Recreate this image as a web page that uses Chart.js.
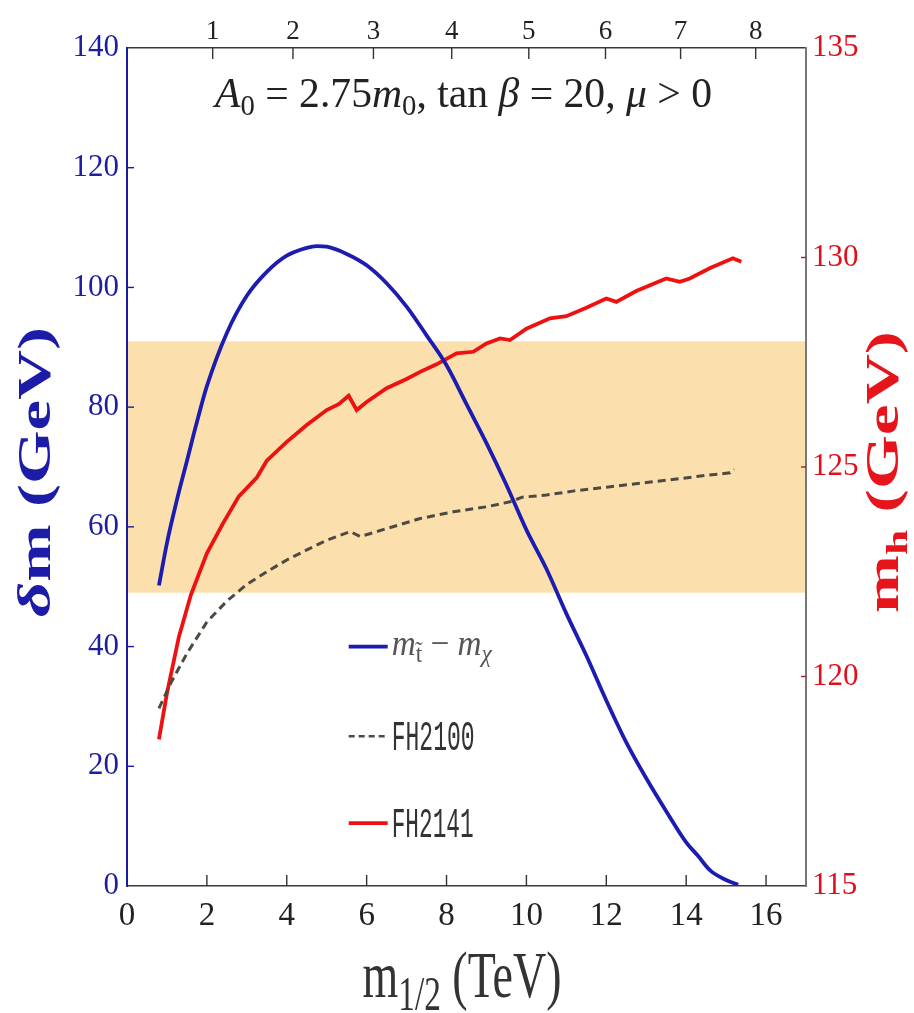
<!DOCTYPE html>
<html>
<head>
<meta charset="utf-8">
<title>delta m and m_h vs m_1/2</title>
<script src="https://cdn.jsdelivr.net/npm/chart.js"></script>
<style>
  html, body { margin: 0; padding: 0; background: #fff; }
  #wrap { width: 914px; height: 1013px; position: relative; }
</style>
</head>
<body>
<div id="wrap"><canvas id="massChart"></canvas></div>
<script>
// valori (m_1/2 in TeV)
const blueM12 = [0.8, 1.0, 1.25, 1.5, 1.75, 2.0, 2.5, 3.0, 3.5, 4.0, 4.5, 4.75, 5.0, 5.5, 6.0, 6.5, 7.0, 7.5, 8.0, 8.5, 9.0, 9.5, 10.0, 10.5, 11.0, 11.5, 12.0, 12.5, 13.0, 13.5, 14.0, 14.3, 14.6, 15.0, 15.3];
const deltaM = [50.2, 57.3, 64.5, 71.0, 77.5, 83.5, 92.4, 98.6, 102.6, 105.3, 106.6, 106.9, 106.8, 105.6, 103.7, 100.7, 96.8, 92.0, 87.0, 80.5, 74.0, 67.0, 59.5, 53.0, 45.5, 38.5, 31.0, 24.0, 18.0, 12.5, 7.3, 5.0, 2.6, 1.0, 0.2];

const redM12 = [0.8, 1.0, 1.3, 1.6, 2.0, 2.4, 2.8, 3.25, 3.5, 4.0, 4.5, 5.0, 5.3, 5.55, 5.75, 6.0, 6.5, 7.0, 7.34, 7.75, 8.25, 8.67, 9.0, 9.34, 9.59, 10.0, 10.59, 11.0, 11.5, 12.0, 12.25, 12.75, 13.5, 13.84, 14.09, 14.6, 15.17, 15.38];
const mhFH2141 = [118.5, 119.6, 120.95, 121.95, 122.94, 123.65, 124.3, 124.75, 125.15, 125.6, 126.0, 126.36, 126.5, 126.7, 126.36, 126.55, 126.88, 127.1, 127.27, 127.45, 127.71, 127.75, 127.95, 128.07, 128.03, 128.3, 128.55, 128.6, 128.8, 129.02, 128.94, 129.2, 129.5, 129.42, 129.5, 129.75, 129.98, 129.9];

const dashM12 = [0.8, 1.1, 1.5, 2.0, 2.5, 3.0, 3.5, 4.0, 4.5, 5.0, 5.59, 5.84, 6.5, 7.34, 8.17, 9.0, 9.59, 9.9, 10.5, 11.2, 12.1, 13.0, 13.9, 14.5, 15.1, 15.2];
const mhFH2100 = [119.24, 119.85, 120.55, 121.3, 121.8, 122.2, 122.5, 122.78, 123.02, 123.25, 123.46, 123.34, 123.53, 123.77, 123.93, 124.05, 124.17, 124.28, 124.33, 124.43, 124.53, 124.63, 124.73, 124.8, 124.86, 124.95];

// asse superiore (m_0 in TeV): etichette e posizione sulla scala m_1/2
const m0Labels = ['1', '2', '3', '4', '5', '6', '7', '8'];
const m0TickAt = [2.145, 4.155, 6.17, 8.13, 10.06, 11.98, 13.86, 15.74];

// banda m_h
const mhBandLow = 122;
const mhBandHigh = 128;

const pts = (xs, ys) => xs.map((x, i) => ({ x: x, y: ys[i] }));

const SERIF = '"Liberation Serif", "DejaVu Serif", serif';
const MONO = '"Liberation Mono", "DejaVu Sans Mono", monospace';

// testo con pezzi di font diversi, stirato a una larghezza data
function drawRich(ctx, parts, x, y, o) {
    ctx.save();
    ctx.translate(x, y);
    if (o.rotate) ctx.rotate(o.rotate);
    let w = 0;
    parts.forEach(p => { ctx.font = p[1]; w += ctx.measureText(p[0]).width; });
    const sx = o.width ? o.width / w : 1;
    ctx.scale(sx, o.sy || 1);
    let cx = o.align === 'left' ? 0 : -w / 2;
    ctx.fillStyle = o.color;
    ctx.textBaseline = 'alphabetic';
    ctx.textAlign = 'left';
    parts.forEach(p => {
        ctx.font = p[1];
        ctx.fillText(p[0], cx, p[2] || 0);
        cx += ctx.measureText(p[0]).width;
    });
    ctx.restore();
}

const bandPlugin = {
    id: 'mhBand',
    beforeDraw(chart) {
        const { ctx, chartArea: a, scales } = chart;
        const top = scales.y2.getPixelForValue(mhBandHigh);
        const bot = scales.y2.getPixelForValue(mhBandLow);
        ctx.save();
        ctx.fillStyle = '#fbe0ad';
        ctx.fillRect(a.left, top, a.right - a.left, bot - top);
        ctx.restore();
    }
};

const inwardTicks = {
    id: 'inwardTicks',
    afterDraw(chart) {
        const { ctx, chartArea: a, scales } = chart;
        const spec = [['x', 11, '#333'], ['xTop', 11, '#333'], ['y', 7, '#1c1ca0'], ['y2', 5, '#a02020']];
        ctx.save();
        ctx.lineWidth = 1.4;
        spec.forEach(([id, len, col]) => {
            const s = scales[id];
            ctx.strokeStyle = col;
            s.ticks.forEach(t => {
                const p = s.getPixelForValue(t.value);
                ctx.beginPath();
                if (id === 'x' || id === 'xTop') {
                    if (p <= a.left + 1 || p >= a.right - 1) return;
                    const y0 = id === 'x' ? a.bottom : a.top;
                    ctx.moveTo(p, y0);
                    ctx.lineTo(p, id === 'x' ? y0 - len : y0 + len);
                } else {
                    if (p <= a.top + 1 || p >= a.bottom - 1) return;
                    const x0 = id === 'y' ? a.left : a.right;
                    ctx.moveTo(x0, p);
                    ctx.lineTo(id === 'y' ? x0 + len : x0 - len, p);
                }
                ctx.stroke();
            });
        });
        ctx.restore();
    }
};

const textPlugin = {
    id: 'texts',
    afterDraw(chart) {
        const { ctx, chartArea: a, scales } = chart;
        const mid = (a.left + a.right) / 2;

        // titolo dentro il grafico
        const it = 'italic 42px ' + SERIF, rm = '42px ' + SERIF, sb = '29px ' + SERIF;
        drawRich(ctx, [
            ['A', it], ['0', sb, 8], [' = 2.75', rm], ['m', it], ['0', sb, 8],
            [', tan ', rm], ['β', it], [' = 20, ', rm], ['μ', it], [' > 0', rm]
        ], mid - 3, 107, { width: 497, color: '#222' });

        // titoli degli assi
        drawRich(ctx, [['δ', 'bold italic 46px ' + SERIF], ['m (GeV)', 'bold 46px ' + SERIF]],
            50, 472, { rotate: -Math.PI / 2, width: 290, color: '#1c1ca8' });
        drawRich(ctx, [['m', 'bold 46px ' + SERIF], ['h', 'bold 30px ' + SERIF, 9], [' (GeV)', 'bold 46px ' + SERIF]],
            898, 472, { rotate: -Math.PI / 2, width: 282, color: '#e8141c' });
        drawRich(ctx, [['m', '40px ' + SERIF], ['1/2', '29px ' + SERIF, 8], [' (TeV)', '40px ' + SERIF]],
            462, 997, { width: 199, sy: 1.65, color: '#333' });

        // legenda
        const lx = scales.x.getPixelForValue(5.55);
        const rows = [40, 25, 10.5].map(v => scales.y.getPixelForValue(v));
        ctx.save();
        ctx.lineCap = 'butt';
        ctx.strokeStyle = '#1c1cb0'; ctx.lineWidth = 3.8;
        ctx.beginPath(); ctx.moveTo(lx, rows[0]); ctx.lineTo(lx + 39, rows[0]); ctx.stroke();
        ctx.strokeStyle = '#4d4a42'; ctx.lineWidth = 2.5; ctx.setLineDash([6, 4]);
        ctx.beginPath(); ctx.moveTo(lx, rows[1]); ctx.lineTo(lx + 39, rows[1]); ctx.stroke();
        ctx.setLineDash([]);
        ctx.strokeStyle = '#ee1111'; ctx.lineWidth = 3.8;
        ctx.beginPath(); ctx.moveTo(lx, rows[2]); ctx.lineTo(lx + 39, rows[2]); ctx.stroke();
        ctx.restore();

        const li = 'italic 30px ' + SERIF, ls = '21px ' + SERIF, lsi = 'italic 21px ' + SERIF;
        drawRich(ctx, [['m', li], ['t\u0303', ls, 6], [' \u2212 ', '30px ' + SERIF], ['m', li], ['χ', lsi, 6]],
            lx + 43, rows[0] + 8, { align: 'left', width: 100, sy: 1.2, color: '#555' });
        drawRich(ctx, [['FH2100', '23px ' + MONO]], lx + 43, rows[1] + 14,
            { align: 'left', width: 83, sy: 1.85, color: '#333' });
        drawRich(ctx, [['FH2141', '23px ' + MONO]], lx + 43, rows[2] + 14,
            { align: 'left', width: 82, sy: 1.85, color: '#333' });
    }
};

const ctx = document.getElementById('massChart').getContext('2d');
const massChart = new Chart(ctx, {
    type: 'line',
    data: {
        datasets: [{
            label: 'm_t - m_chi',
            data: pts(blueM12, deltaM),
            yAxisID: 'y',
            borderColor: '#1c1cb0',
            borderWidth: 3.8,
            pointRadius: 0,
            cubicInterpolationMode: 'monotone'
        }, {
            label: 'FH2100',
            data: pts(dashM12, mhFH2100),
            yAxisID: 'y2',
            borderColor: '#4d4a42',
            borderWidth: 3,
            borderDash: [8, 5],
            pointRadius: 0,
            tension: 0
        }, {
            label: 'FH2141',
            data: pts(redM12, mhFH2141),
            yAxisID: 'y2',
            borderColor: '#ee1111',
            borderWidth: 3.8,
            pointRadius: 0,
            tension: 0
        }]
    },
    options: {
        animation: false,
        responsive: true,
        maintainAspectRatio: false,
        layout: { padding: 0 },
        plugins: {
            legend: { display: false },
            tooltip: { enabled: false }
        },
        scales: {
            x: {
                type: 'linear',
                position: 'bottom',
                min: 0,
                max: 17,
                afterFit: s => { s.height = 127; },
                grid: { display: false, drawTicks: false },
                border: { color: '#3a3a3a', width: 1.6 },
                ticks: {
                    stepSize: 2,
                    includeBounds: false,
                    padding: 11,
                    color: '#222',
                    font: { family: SERIF, size: 33 }
                }
            },
            xTop: {
                type: 'linear',
                position: 'top',
                min: 0,
                max: 17,
                afterFit: s => { s.height = 48; },
                afterBuildTicks: s => { s.ticks = m0TickAt.map(v => ({ value: v })); },
                grid: { display: false, drawTicks: false },
                border: { color: '#3a3a3a', width: 1.6 },
                ticks: {
                    padding: 0,
                    color: '#222',
                    font: { family: SERIF, size: 27 },
                    callback: (v, i) => m0Labels[i]
                }
            },
            y: {
                position: 'left',
                min: 0,
                max: 140,
                afterFit: s => { s.width = 127; },
                grid: { display: false, drawTicks: false },
                border: { color: '#1c1ca0', width: 2 },
                ticks: {
                    stepSize: 20,
                    padding: 8,
                    color: '#1e1ea0',
                    font: { family: SERIF, size: 31 }
                }
            },
            y2: {
                position: 'right',
                min: 115,
                max: 135,
                afterFit: s => { s.width = 108; },
                grid: { display: false, drawTicks: false },
                border: { color: '#777', width: 2 },
                ticks: {
                    stepSize: 5,
                    padding: 6,
                    color: '#e0101a',
                    font: { family: SERIF, size: 31 }
                }
            }
        }
    },
    plugins: [bandPlugin, inwardTicks, textPlugin]
});
</script>
</body>
</html>
